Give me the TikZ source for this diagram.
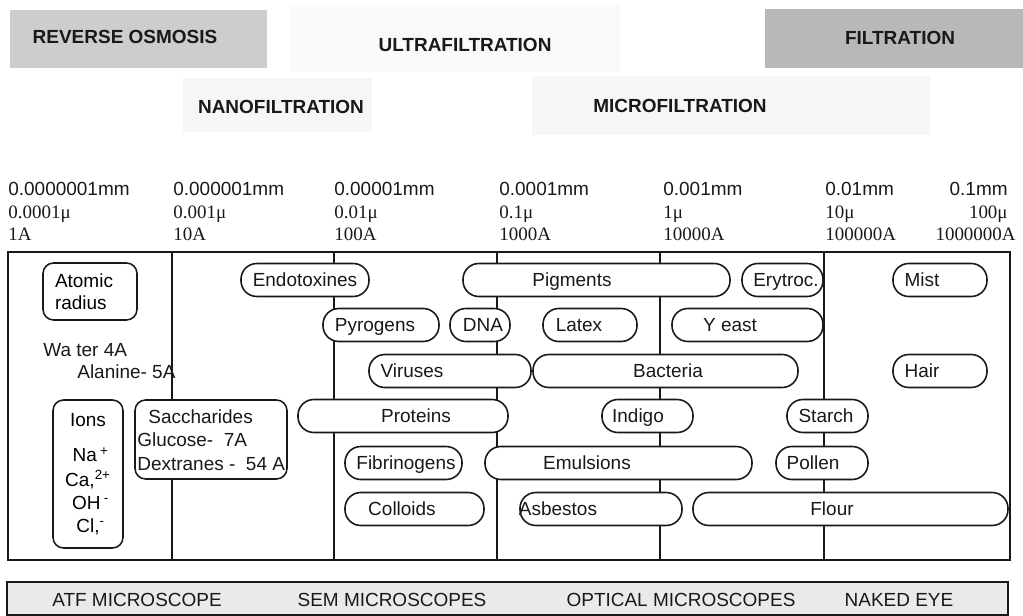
\documentclass[tikz,border=0pt]{standalone}
\usepackage{fontspec}
\setmainfont[Scale=1.08]{Liberation Sans}
\newfontfamily\serifnum[Scale=1.08]{Liberation Serif}
\usepackage{tikz}
\usetikzlibrary{positioning}
\definecolor{inkgray}{RGB}{25,25,25}
\definecolor{midshade}{RGB}{205,205,205}
\definecolor{darkshade}{RGB}{184,184,184}
\definecolor{paleshade}{RGB}{246,246,246}
\definecolor{faintshade}{RGB}{249,249,249}
\definecolor{barshade}{RGB}{234,234,234}
\tikzset{
  sz/.style 2 args={minimum width=#1*0.2mm,minimum height=#2*0.2mm},
  shade/.style={rectangle,fill=#1,inner sep=0pt},
  pill/.style={rectangle,draw=inkgray,fill=white,line width=0.9pt,rounded corners=9pt,
    minimum width=#1*0.2mm,minimum height=6.6mm,inner sep=0pt},
  pill/.default=100,
  rbox/.style={rectangle,draw=inkgray,fill=white,line width=0.9pt,rounded corners=6pt,inner sep=0pt},
  lbl/.style={inner sep=0pt,text height=7.7pt,text depth=0pt,text=inkgray},
  hdr/.style={lbl,font=\bfseries},
  scl/.style={lbl,anchor=west},
  sclr/.style={lbl,anchor=east},
  frame/.style={draw=inkgray,line width=0.9pt}
}
\begin{document}
\begin{tikzpicture}[x=0.2mm,y=-0.2mm]
  \useasboundingbox (0,0) rectangle (1023,616);
  % filtration ranges
  \node[shade=faintshade,sz={330}{67}] (ultra) at (455,38.5) {};
  \node[shade=paleshade,sz={189}{54}] (nano) at (277.5,105) {};
  \node[shade=paleshade,sz={398}{59}] (micro) at (731,105.5) {};
  \node[shade=midshade,sz={257}{58}] (rev) at (138.5,39) {};
  \node[shade=darkshade,sz={258}{59}] (filt) at (894,38.5) {};
  \node[hdr] (rev-t) at (125,37) {REVERSE OSMOSIS};
  \node[hdr] (ultra-t) at (465,45) {ULTRAFILTRATION};
  \node[hdr] (nano-t) at (281,107) {NANOFILTRATION};
  \node[hdr] (micro-t) at (680,106) {MICROFILTRATION};
  \node[hdr] (filt-t) at (900,38) {FILTRATION};

  % size scale
  \node[scl] (mm1) at (8,189) {0.0000001mm};
  \node[scl] (mm2) at (173,189) {0.000001mm};
  \node[scl] (mm3) at (334,189) {0.00001mm};
  \node[scl] (mm4) at (499,189) {0.0001mm};
  \node[scl] (mm5) at (663,189) {0.001mm};
  \node[scl] (mm6) at (825,189) {0.01mm};
  \node[sclr] (mm7) at (1008,189) {0.1mm};
  \node[scl,font=\serifnum] (mu1) at (8,212) {0.0001μ};
  \node[scl,font=\serifnum] (mu2) at (173,212) {0.001μ};
  \node[scl,font=\serifnum] (mu3) at (334,212) {0.01μ};
  \node[scl,font=\serifnum] (mu4) at (499,212) {0.1μ};
  \node[scl,font=\serifnum] (mu5) at (663,212) {1μ};
  \node[scl,font=\serifnum] (mu6) at (825,212) {10μ};
  \node[sclr,font=\serifnum] (mu7) at (1008,212) {100μ};
  \node[scl,font=\serifnum] (an1) at (8,234) {1A};
  \node[scl,font=\serifnum] (an2) at (173,234) {10A};
  \node[scl,font=\serifnum] (an3) at (334,234) {100A};
  \node[scl,font=\serifnum] (an4) at (499,234) {1000A};
  \node[scl,font=\serifnum] (an5) at (663,234) {10000A};
  \node[scl,font=\serifnum] (an6) at (825,234) {100000A};
  \node[sclr,font=\serifnum] (an7) at (1016,234) {1000000A};

  % chart frame
  \draw[frame] (8,252) rectangle (1010,560);
  \draw[frame] (172,252) -- (172,560);
  \draw[frame] (334,252) -- (334,560);
  \draw[frame] (497,252) -- (497,560);
  \draw[frame] (660,252) -- (660,560);
  \draw[frame] (824,252) -- (824,560);

  % left columns
  \node[rbox,sz={94}{57},text width=70*0.2mm,align=left] (atom) at (90,291.5) {Atomic\\[0.6pt]radius};
  \node[lbl,anchor=west] (water) at (43,350) {Wa ter 4A};
  \node[lbl,anchor=west] (alan) at (77,372) {Alanine- 5A};
  \node[rbox,sz={70}{148},align=center] (ions) at (88,474)
    {Ions\\[8pt]\ Na\,\textsuperscript{+}\\[2pt]Ca,\textsuperscript{2+}\\[1pt]\ OH\,\textsuperscript{-}\\[1pt]\ Cl,\textsuperscript{-}};
  \node[rbox,sz={152}{79}] (sacc) at (211,439.5) {};
  \node[inner sep=0pt,anchor=north west,align=left,text=inkgray] (sacc-t) at (137,409)
    {\hspace*{2.2mm}Saccharides\\[1.5pt]Glucose-\ \ 7A\\[1.5pt]Dextranes -\ \ 54 A};

  % particles
  \node[pill=128] (endo) at (305,280) {};
  \node[lbl] (endo-t) at (305,280) {Endotoxines};
  \node[pill=267] (pigm) at (596.5,280) {};
  \node[lbl] (pigm-t) at (572,280) {Pigments};
  \node[pill=81] (eryt) at (782.5,280) {};
  \node[lbl] (eryt-t) at (786,280) {Erytroc.};
  \node[pill=94] (mist) at (940,280) {};
  \node[lbl] (mist-t) at (922,280) {Mist};

  \node[pill=116] (pyro) at (381,325) {};
  \node[lbl] (pyro-t) at (375,325) {Pyrogens};
  \node[pill=60] (dna) at (480,325) {};
  \node[lbl] (dna-t) at (483,325) {DNA};
  \node[pill=94] (latex) at (590,325) {};
  \node[lbl] (latex-t) at (579,325) {Latex};
  \node[pill=151] (yeast) at (747.5,325) {};
  \node[lbl] (yeast-t) at (730,325) {Y east};

  \node[pill=162] (vir) at (450,371) {};
  \node[lbl] (vir-t) at (412,371) {Viruses};
  \node[pill=265] (bact) at (665.5,371) {};
  \node[lbl] (bact-t) at (668,371) {Bacteria};
  \node[pill=94] (hair) at (940,371) {};
  \node[lbl] (hair-t) at (922,371) {Hair};

  \node[pill=210] (prot) at (403,416) {};
  \node[lbl] (prot-t) at (416,416) {Proteins};
  \node[pill=91] (indi) at (647.5,416) {};
  \node[lbl] (indi-t) at (638,416) {Indigo};
  \node[pill=81] (star) at (827.5,416) {};
  \node[lbl] (star-t) at (826,416) {Starch};

  \node[pill=117] (fibr) at (403.5,463) {};
  \node[lbl] (fibr-t) at (406,463) {Fibrinogens};
  \node[pill=267] (emul) at (618.5,463) {};
  \node[lbl] (emul-t) at (587,463) {Emulsions};
  \node[pill=92] (poll) at (822,463) {};
  \node[lbl] (poll-t) at (813,463) {Pollen};

  \node[pill=139] (coll) at (414.5,509) {};
  \node[lbl] (coll-t) at (402,509) {Colloids};
  \node[pill=162] (asbe) at (601,509) {};
  \node[lbl] (asbe-t) at (558,509) {Asbestos};
  \node[pill=315] (flour) at (850.5,509) {};
  \node[lbl] (flour-t) at (832,509) {Flour};

  % instruments
  \node[shade=barshade,draw=inkgray,line width=0.8pt,sz={1001}{33}] (bar) at (507.5,598.5) {};
  \node[lbl] (atf) at (137,600) {ATF MICROSCOPE};
  \node[lbl] (sem) at (392,600) {SEM MICROSCOPES};
  \node[lbl] (opt) at (681,600) {OPTICAL MICROSCOPES};
  \node[lbl] (eye) at (899,600) {NAKED EYE};
\end{tikzpicture}
\end{document}
